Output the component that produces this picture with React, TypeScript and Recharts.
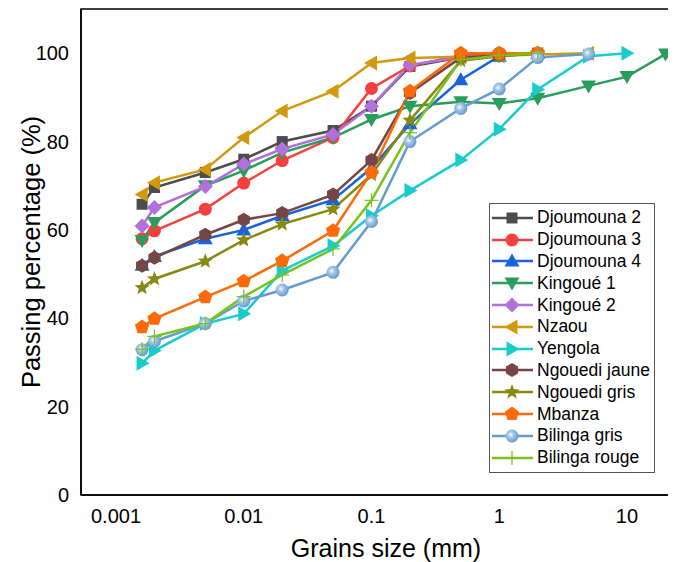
import React from 'react';
import { LineChart, Line, XAxis, YAxis, Legend, ReferenceArea } from 'recharts';

// sieve / hydrometer sizes (mm), shared by every sample
const SIZES = [0.0016, 0.002, 0.005, 0.01, 0.02, 0.05, 0.1, 0.2, 0.5, 1, 2, 5, 10, 20];

const djoumouna2 = [65.8, 69.6, 73, 76, 80, 82.5, 88, 97, 99, 99.5, 100];
const djoumouna3 = [58, 59.8, 64.7, 70.6, 75.7, 80.9, 92, 97.1, 99.5, 100, 100];
const djoumouna4 = [52, 54, 58, 60, 63.2, 66.8, 74, 84, 94, 99.3, 100];
const kingoue1 = [57.6, 61.7, 70, 73.4, 77.5, 80.9, 85, 88, 89, 88.6, 89.8, 92.6, 94.7, 99.8];
const kingoue2 = [60.9, 65.1, 69.8, 74.9, 78.3, 81.6, 88, 97.4, 99, 99.5, 100];
const nzaou = [68, 70.7, 73.7, 80.9, 86.9, 91.4, 97.8, 98.9, 99.2, 99.4, 99.7, 100];
const yengola = [29.8, 32.7, 38.8, 41, 50.8, 56.4, 63.2, 68.9, 75.8, 82.8, 91.8, 99.3, 100];
const ngouediJaune = [51.9, 53.7, 58.9, 62.3, 63.8, 68, 75.8, 91, 99, 99.5, 100];
const ngouediGris = [46.9, 48.9, 52.9, 57.7, 61.3, 64.7, 72.5, 84.8, 98.3, 99.3, 100];
const mbanza = [38, 39.9, 44.8, 48.4, 53, 59.8, 73, 91.4, 100, 100, 100];
const bilingaGris = [32.9, 34.8, 38.8, 43.9, 46.4, 50.4, 61.9, 80, 87.5, 91.9, 99, 99.8];
const bilingaRouge = [33, 35.9, 38.8, 44.9, 49.8, 55.7, 66.7, 82, 98.5, 99.5, 100];

const X_TICKS = [0.001, 0.01, 0.1, 1, 10];
const Y_TICKS = [0, 20, 40, 60, 80, 100];

const FONT = '"Liberation Sans", Arial, sans-serif';
const XMIN = 0.000532;
const XMAX = 23.76;

type Shape =
  | 'square' | 'circle' | 'up' | 'down' | 'diamond' | 'left'
  | 'right' | 'hexagon' | 'star' | 'pentagon' | 'sphere' | 'plus';

const SERIES: { name: string; values: number[]; color: string; shape: Shape }[] = [
  { name: 'Djoumouna 2', values: djoumouna2, color: '#4d4d4d', shape: 'square' },
  { name: 'Djoumouna 3', values: djoumouna3, color: '#f4403f', shape: 'circle' },
  { name: 'Djoumouna 4', values: djoumouna4, color: '#1a62dc', shape: 'up' },
  { name: 'Kingoué 1', values: kingoue1, color: '#2a9d5c', shape: 'down' },
  { name: 'Kingoué 2', values: kingoue2, color: '#b370dc', shape: 'diamond' },
  { name: 'Nzaou', values: nzaou, color: '#d09a0c', shape: 'left' },
  { name: 'Yengola', values: yengola, color: '#18cccc', shape: 'right' },
  { name: 'Ngouedi jaune', values: ngouediJaune, color: '#744646', shape: 'hexagon' },
  { name: 'Ngouedi gris', values: ngouediGris, color: '#878a12', shape: 'star' },
  { name: 'Mbanza', values: mbanza, color: '#fc6a0a', shape: 'pentagon' },
  { name: 'Bilinga gris', values: bilingaGris, color: '#649cd0', shape: 'sphere' },
  { name: 'Bilinga rouge', values: bilingaRouge, color: '#78c21c', shape: 'plus' },
];

const poly = (cx: number, cy: number, n: number, r: number, rot: number) =>
  Array.from({ length: n }, (_, i) => {
    const a = ((rot + (360 / n) * i) * Math.PI) / 180;
    return `${cx + r * Math.cos(a)},${cy + r * Math.sin(a)}`;
  }).join(' ');

const starPts = (cx: number, cy: number, ro: number, ri: number) =>
  Array.from({ length: 10 }, (_, i) => {
    const r = i % 2 === 0 ? ro : ri;
    const a = ((-90 + 36 * i) * Math.PI) / 180;
    return `${cx + r * Math.cos(a)},${cy + r * Math.sin(a)}`;
  }).join(' ');

function Marker({ shape, cx, cy, color }: { shape: Shape; cx: number; cy: number; color: string }) {
  switch (shape) {
    case 'square':
      return <rect x={cx - 5.5} y={cy - 5.5} width={11} height={11} fill={color} />;
    case 'circle':
      return <circle cx={cx} cy={cy} r={6.5} fill={color} />;
    case 'up':
      return <polygon points={`${cx},${cy - 7.5} ${cx + 7.5},${cy + 5.5} ${cx - 7.5},${cy + 5.5}`} fill={color} />;
    case 'down':
      return <polygon points={`${cx - 7.5},${cy - 5.5} ${cx + 7.5},${cy - 5.5} ${cx},${cy + 7.5}`} fill={color} />;
    case 'diamond':
      return <polygon points={`${cx},${cy - 7.5} ${cx + 7.5},${cy} ${cx},${cy + 7.5} ${cx - 7.5},${cy}`} fill={color} />;
    case 'left':
      return <polygon points={`${cx - 7.5},${cy} ${cx + 5.5},${cy - 7.5} ${cx + 5.5},${cy + 7.5}`} fill={color} />;
    case 'right':
      return <polygon points={`${cx + 7.5},${cy} ${cx - 5.5},${cy - 7.5} ${cx - 5.5},${cy + 7.5}`} fill={color} />;
    case 'hexagon':
      return <polygon points={poly(cx, cy, 6, 7, -90)} fill={color} />;
    case 'star':
      return <polygon points={starPts(cx, cy, 8, 3.4)} fill={color} />;
    case 'pentagon':
      return <polygon points={poly(cx, cy, 5, 7.5, -90)} fill={color} />;
    case 'sphere':
      return (
        <g>
          <defs>
            <radialGradient id="sphereGrad" cx="0.4" cy="0.4" r="0.6">
              <stop offset="0" stopColor="#ffffff" />
              <stop offset="0.35" stopColor="#a9c8e8" />
              <stop offset="1" stopColor={color} />
            </radialGradient>
          </defs>
          <circle cx={cx} cy={cy} r={6.5} fill="url(#sphereGrad)" />
        </g>
      );
    case 'plus':
      return (
        <g stroke={color} strokeWidth={1.2}>
          <line x1={cx - 7} y1={cy} x2={cx + 7} y2={cy} />
          <line x1={cx} y1={cy - 7} x2={cx} y2={cy + 7} />
        </g>
      );
  }
  return null;
}

function SampleLegend() {
  return (
    <div
      style={{
        border: '1px solid #555',
        background: '#fff',
        width: 164,
        padding: '3px 0',
        fontFamily: FONT,
        fontSize: 17.5,
        color: '#000',
      }}
    >
      {SERIES.map((s) => (
        <div key={s.name} style={{ display: 'flex', alignItems: 'center', height: 21.8 }}>
          <svg width={47} height={20} style={{ flex: 'none' }}>
            <line x1={2} y1={10} x2={43} y2={10} stroke={s.color} strokeWidth={2.5} />
            <Marker shape={s.shape} cx={22} cy={10} color={s.color} />
          </svg>
          <span style={{ whiteSpace: 'nowrap' }}>{s.name}</span>
        </div>
      ))}
    </div>
  );
}

export default function App() {
  return (
    <LineChart width={668} height={554} margin={{ top: 1, right: 1, left: 0, bottom: 0 }}>
      <ReferenceArea
        x1={XMIN}
        x2={XMAX}
        y1={0}
        y2={110}
        fill="none"
        stroke="#000"
        strokeWidth={1.5}
        ifOverflow="visible"
      />
      <XAxis
        type="number"
        dataKey="x"
        scale="log"
        domain={[XMIN, XMAX]}
        allowDataOverflow
        ticks={X_TICKS}
        tickFormatter={(v) => String(v)}
        height={67}
        tickLine={false}
        tickMargin={8}
        axisLine={{ stroke: '#000', strokeWidth: 1.5 }}
        tick={{ fill: '#000', fontSize: 20, fontFamily: FONT }}
        label={{
          value: 'Grains size (mm)',
          position: 'insideBottom',
          offset: 5,
          dx: 8,
          style: { fill: '#000', fontSize: 25, fontFamily: FONT },
        }}
      />
      <YAxis
        type="number"
        domain={[0, 110]}
        ticks={Y_TICKS}
        width={73}
        tickLine={false}
        tickMargin={6}
        axisLine={{ stroke: '#000', strokeWidth: 1.5 }}
        tick={{ fill: '#000', fontSize: 20, fontFamily: FONT }}
        label={{
          value: 'Passing percentage (%)',
          angle: -90,
          position: 'insideLeft',
          offset: 4,
          dx: 19,
          style: { textAnchor: 'middle', fill: '#000', fontSize: 25.5, fontFamily: FONT },
        }}
      />
      {SERIES.map((s) => (
        <Line
          key={s.name}
          name={s.name}
          data={s.values.map((v, i) => ({ x: SIZES[i], y: v }))}
          dataKey="y"
          stroke={s.color}
          strokeWidth={2.5}
          isAnimationActive={false}
          dot={(p: any) => (
            <g key={`${s.name}-${p.index}`}>
              <Marker shape={s.shape} cx={p.cx} cy={p.cy} color={s.color} />
            </g>
          )}
          activeDot={false}
        />
      ))}
      <Legend
        layout="horizontal"
        align="center"
        verticalAlign="middle"
        wrapperStyle={{ left: 481, top: 195, width: 166 }}
        content={() => <SampleLegend />}
      />
    </LineChart>
  );
}
